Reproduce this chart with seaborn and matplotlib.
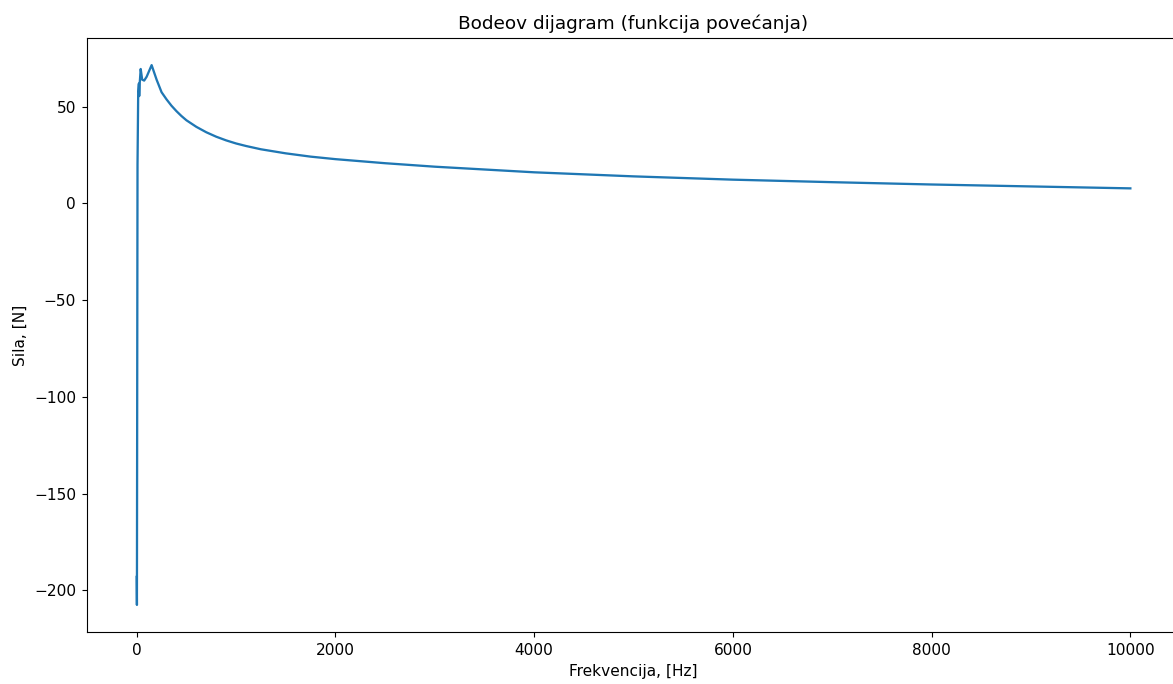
import matplotlib
matplotlib.use("Agg")
import matplotlib.pyplot as plt
import seaborn as sns
import pandas as pd

# Frequency samples [Hz] and force magnitude values
frekvencija = [0, 2, 8, 15, 22, 25, 30, 40, 55, 75, 100, 150, 200, 250, 300,
               350, 400, 450, 500, 600, 700, 800, 900, 1000, 1100, 1250, 1500,
               1750, 2000, 2500, 3000, 4000, 5000, 6000, 7000, 8000, 9000, 10000]
sila = [-193, -207.5, 20, 58, 62, 55.5, 62, 69.5, 64, 63.5, 65.5, 71.5, 64, 57.5, 53.8,
        50.5, 47.7, 45.2, 43.0, 39.6, 36.8, 34.5, 32.6, 31.0, 29.7, 28.0, 25.9,
        24.2, 22.9, 20.8, 19.0, 16.1, 14.0, 12.3, 11.0, 9.8, 8.8, 7.8]

df = pd.DataFrame({"f": frekvencija, "s": sila})

plt.rcParams.update({
    "xtick.labelsize": 11.1, "ytick.labelsize": 11.1,
    "axes.labelsize": 11.1, "axes.titlesize": 13.3,
    "xtick.major.size": 3.9, "ytick.major.size": 3.9,
    "xtick.major.pad": 3.9, "ytick.major.pad": 3.9,
})

fig = plt.figure(figsize=(11.73, 6.84), dpi=100)
ax = fig.add_axes([0.0742, 0.076, 0.9318, 0.8684])
sns.lineplot(data=df, x="f", y="s", ax=ax, estimator=None, sort=False,
             color="#1f77b4", linewidth=1.65)
ax.set_xlim(-500, 10500)
ax.set_ylim(-221.5, 85.5)
ax.set_title("Bodeov dijagram (funkcija povećanja)", pad=6.7)
ax.set_xlabel("Frekvencija, [Hz]", labelpad=4.4)
ax.set_ylabel("Sila, [N]", labelpad=4.4)
fig.savefig("out.png", dpi=100)
